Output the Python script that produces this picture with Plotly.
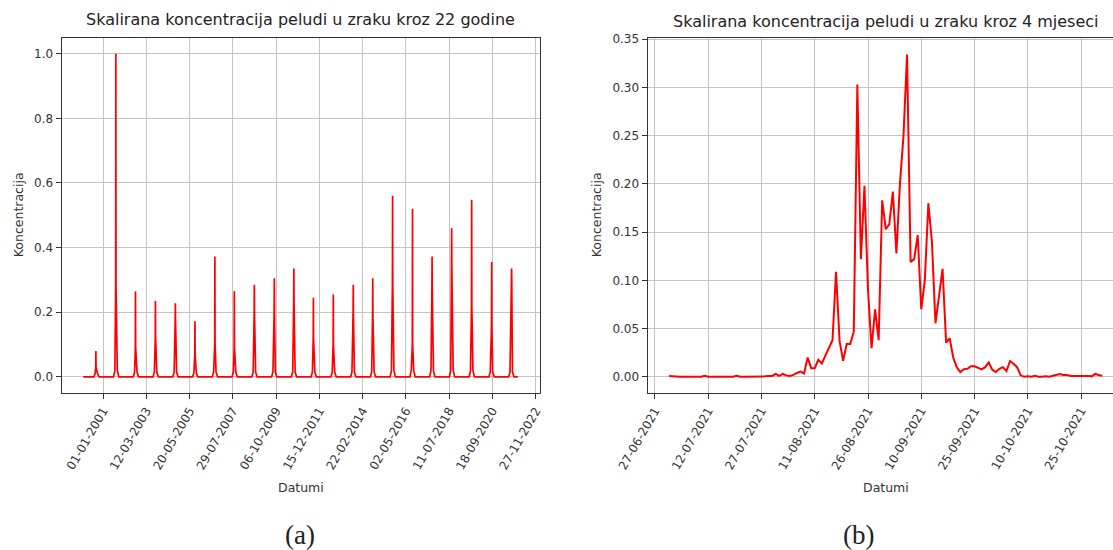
import plotly.graph_objects as go
import pandas as pd

W, H = 1113, 550

# ---------------- Data: 22-year series (one pollen season per year) ----------------
years = list(range(2000, 2022))
peak_dates = ["2000-08-22", "2001-08-26", "2002-08-24", "2003-08-28", "2004-08-30",
              "2005-08-27", "2006-08-31", "2007-08-25", "2008-08-29", "2009-09-02",
              "2010-08-30", "2011-08-26", "2012-08-28", "2013-09-01", "2014-08-27",
              "2015-08-29", "2016-08-31", "2017-08-28", "2018-08-25", "2019-08-30",
              "2020-09-03", "2021-09-06"]
peak_values = [0.08, 1.0, 0.265, 0.235, 0.228, 0.172, 0.372, 0.265, 0.285, 0.305, 0.335,
               0.245, 0.255, 0.285, 0.305, 0.56, 0.52, 0.372, 0.46, 0.548, 0.355, 0.335]
shoulder_values = [0.03, 0.28, 0.09, 0.12, 0.18, 0.07, 0.10, 0.09, 0.20, 0.20, 0.23,
                   0.12, 0.10, 0.20, 0.19, 0.29, 0.10, 0.27, 0.34, 0.22, 0.16, 0.30]
base_values = [0.01, 0.02, 0.015, 0.015, 0.015, 0.012, 0.015, 0.015, 0.015, 0.015, 0.015,
               0.015, 0.015, 0.015, 0.015, 0.02, 0.02, 0.02, 0.02, 0.02, 0.015, 0.015]
series_start, series_end = "2000-01-01", "2021-12-31"

# ---------------- Data: 4-month daily series (1 Jul - 31 Oct 2021) ----------------
month_start = "2021-07-01"
month_values = [
    0.001, 0.0005, 0.000, 0.000, 0.000, 0.000, 0.000, 0.000, 0.000, 0.000,
    0.001, 0.000, 0.000, 0.000, 0.000, 0.000, 0.000, 0.000, 0.000, 0.001,
    0.000, 0.000, 0.000, 0.000, 0.000, 0.000, 0.000, 0.0005, 0.001, 0.001,
    0.003, 0.001, 0.003, 0.0015, 0.001, 0.002, 0.004, 0.0055, 0.0035, 0.020,
    0.009, 0.009, 0.0176, 0.0138, 0.022, 0.030, 0.038, 0.109, 0.037, 0.0166,
    0.034, 0.034, 0.047, 0.303, 0.122, 0.198, 0.090, 0.0297, 0.070, 0.038,
    0.183, 0.153, 0.158, 0.192, 0.128, 0.200, 0.250, 0.334, 0.119, 0.122,
    0.147, 0.070, 0.100, 0.180, 0.140, 0.0555, 0.085, 0.112, 0.0355, 0.040,
    0.020, 0.010, 0.005, 0.008, 0.0084, 0.011, 0.011, 0.009, 0.0077, 0.010,
    0.015, 0.0074, 0.005, 0.0084, 0.010, 0.006, 0.0164, 0.0136, 0.010, 0.0016,
    0.000, 0.0005, 0.000, 0.001, 0.000, 0.000, 0.0005, 0.000, 0.001, 0.002,
    0.003, 0.002, 0.002, 0.001, 0.001, 0.001, 0.0015, 0.001, 0.001, 0.0005,
    0.003, 0.002, 0.001,
]

left_tick_labels = ["01-01-2001", "12-03-2003", "20-05-2005", "29-07-2007", "06-10-2009",
                    "15-12-2011", "22-02-2014", "02-05-2016", "11-07-2018", "18-09-2020",
                    "27-11-2022"]
right_tick_labels = ["27-06-2021", "12-07-2021", "27-07-2021", "11-08-2021", "26-08-2021",
                     "10-09-2021", "25-09-2021", "10-10-2021", "25-10-2021"]
left_y_ticks = [0.0, 0.2, 0.4, 0.6, 0.8, 1.0]
right_y_ticks = [0.0, 0.05, 0.10, 0.15, 0.20, 0.25, 0.30, 0.35]

# ---------------- Build left series ----------------
lx = [pd.Timestamp(series_start)]
ly = [0.0]
for y, pdate, pv, sv, bv in zip(years, peak_dates, peak_values, shoulder_values, base_values):
    p = pd.Timestamp(pdate)
    pts = [
        (pd.Timestamp(f"{y}-07-15"), 0.0),
        (pd.Timestamp(f"{y}-08-08"), bv),
        (p - pd.Timedelta(days=3), sv),
        (p, pv),
        (p + pd.Timedelta(days=3), sv),
        (pd.Timestamp(f"{y}-09-22"), bv),
        (pd.Timestamp(f"{y}-10-20"), 0.0),
    ]
    for d, v in pts:
        lx.append(d)
        ly.append(v)
lx.append(pd.Timestamp(series_end))
ly.append(0.0)

rx = pd.date_range(month_start, periods=len(month_values), freq="D")

# ---------------- Layout geometry (pixels) ----------------
def px(x):
    return x / W

def py(y):
    return 1 - y / H

top_px, bot_px = 37.5, 393.0
L0, L1 = 61.5, 539.6
R0, R1 = 647.5, 1113.0

# axis ranges (matplotlib-like 5% margins)
ls, le = pd.Timestamp(series_start), pd.Timestamp(series_end)
lm = (le - ls) * 0.05
left_range = [ls - lm, le + lm]
rs, re_ = rx[0], rx[-1]
rm = (re_ - rs) * 0.05
r_start = rs - rm
r_per_px = ((re_ + rm) - r_start) / (1124.0 - R0)
right_range = [r_start, r_start + r_per_px * (R1 - R0)]

FONT = "DejaVu Sans"
TXT = "#333333"
GRID = "#c4c4c4"
SPINE = "#333333"
TICK_SIZE = 12
LABEL_SIZE = 12.5

fig = go.Figure()
fig.add_trace(go.Scatter(x=lx, y=ly, mode="lines", line=dict(color="#ff0000", width=1.7),
                         xaxis="x", yaxis="y", showlegend=False))
fig.add_trace(go.Scatter(x=rx, y=month_values, mode="lines", line=dict(color="#ff0000", width=2),
                         xaxis="x2", yaxis="y2", showlegend=False))

left_tickvals = [pd.to_datetime(t, format="%d-%m-%Y") for t in left_tick_labels]
right_tickvals = [pd.to_datetime(t, format="%d-%m-%Y") for t in right_tick_labels]

axis_common = dict(showgrid=True, gridcolor=GRID, gridwidth=1, showline=True, linecolor=SPINE,
                   linewidth=1, ticks="outside", ticklen=5, tickcolor=SPINE, tickwidth=1,
                   zeroline=False, automargin=False,
                   tickfont=dict(family=FONT, size=TICK_SIZE, color=TXT))

fig.update_layout(
    width=W, height=H,
    margin=dict(l=0, r=0, t=0, b=0),
    paper_bgcolor="white", plot_bgcolor="white",
    showlegend=False,
    xaxis=dict(domain=[px(L0), px(L1)], range=left_range, tickvals=left_tickvals,
               ticktext=left_tick_labels, tickangle=-60, mirror=True, anchor="y", **axis_common),
    yaxis=dict(domain=[py(bot_px), py(top_px)], range=[-0.05, 1.05], tickvals=left_y_ticks,
               ticktext=[f"{v:.1f}" for v in left_y_ticks], mirror=True, anchor="x", **axis_common),
    xaxis2=dict(domain=[px(R0), px(R1)], range=right_range, tickvals=right_tickvals,
                ticktext=right_tick_labels, tickangle=-60, mirror=True, anchor="y2", **axis_common),
    yaxis2=dict(domain=[py(bot_px), py(top_px)], range=[-0.01675, 0.35175], tickvals=right_y_ticks,
                ticktext=[f"{v:.2f}" for v in right_y_ticks], mirror=False, anchor="x2", **axis_common),
)

ann = []
ann.append(dict(text="Skalirana koncentracija peludi u zraku kroz 22 godine", x=px((L0 + L1) / 2), y=py(19),
                font=dict(family=FONT, size=16, color="#222222")))
ann.append(dict(text="Skalirana koncentracija peludi u zraku kroz 4 mjeseci", x=px(885.5), y=py(21),
                font=dict(family=FONT, size=16, color="#222222")))
ann.append(dict(text="Koncentracija", x=px(18), y=py((top_px + bot_px) / 2), textangle=-90,
                font=dict(family=FONT, size=LABEL_SIZE, color=TXT)))
ann.append(dict(text="Koncentracija", x=px(596), y=py((top_px + bot_px) / 2), textangle=-90,
                font=dict(family=FONT, size=LABEL_SIZE, color=TXT)))
ann.append(dict(text="Datumi", x=px((L0 + L1) / 2), y=py(487), font=dict(family=FONT, size=LABEL_SIZE, color=TXT)))
ann.append(dict(text="Datumi", x=px(885.5), y=py(487), font=dict(family=FONT, size=LABEL_SIZE, color=TXT)))
ann.append(dict(text="(a)", x=px(300), y=py(535), font=dict(family="Liberation Serif", size=27, color="#222222")))
ann.append(dict(text="(b)", x=px(858), y=py(535), font=dict(family="Liberation Serif", size=27, color="#222222")))
for a in ann:
    a.update(xref="paper", yref="paper", showarrow=False, xanchor="center", yanchor="middle")
fig.update_layout(annotations=ann)

fig.write_html("out.html", config={"displayModeBar": False},
               post_script="document.body.style.margin='0';")
